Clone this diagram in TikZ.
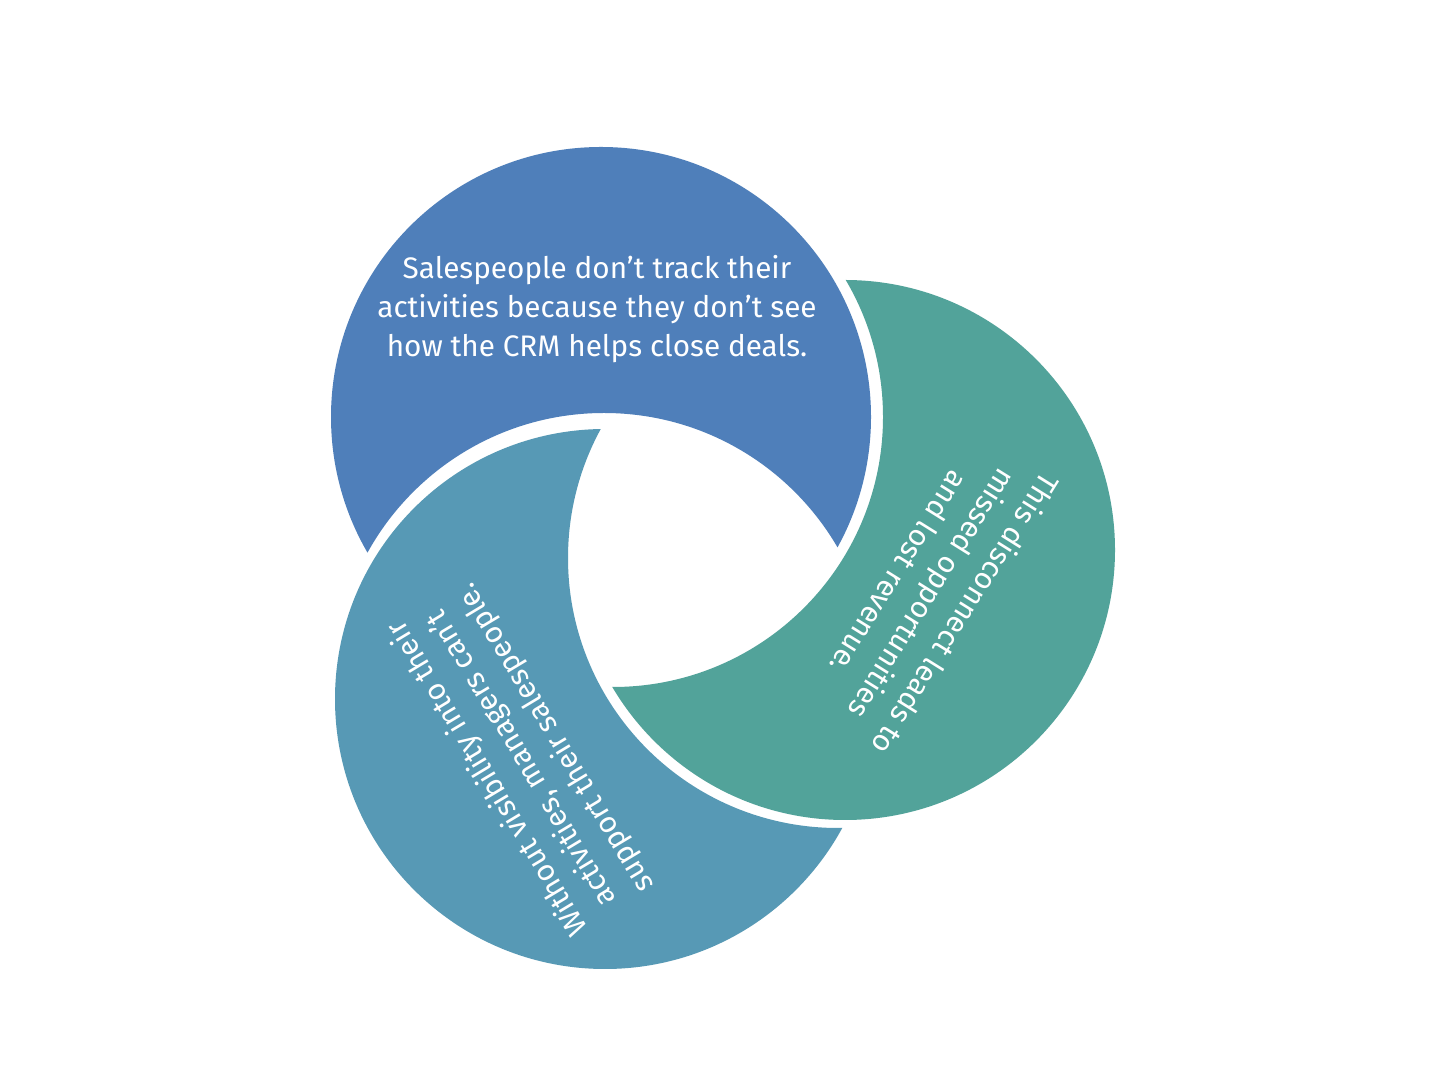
\documentclass[tikz,border=0pt]{standalone}
\usepackage{fontspec}
\setmainfont{Fira Sans}
\definecolor{trackblue}{HTML}{4F7FBA}
\definecolor{lossteal}{HTML}{52A39A}
\definecolor{mgrblue}{HTML}{5799B5}

\begin{document}
\begin{tikzpicture}[x=0.02cm, y=0.02cm]
\tikzstyle{every node}+=[inner sep=0pt, text=white, align=center, font=\fontsize{16.9}{22.3}\selectfont]
\useasboundingbox (0,0) rectangle (1433,1075);
\fill [white] (0,0) rectangle (1433,1075);
\begin{scope}
\clip (601,658) circle (270);
\fill [trackblue, even odd rule] (300,350) rectangle (900,950) (604,392) circle (270);
\end{scope}
\begin{scope}
\clip (845,525) circle (270);
\fill [lossteal, even odd rule] (550,230) rectangle (1150,830) (613,658) circle (270);
\end{scope}
\begin{scope}
\clip (605,376) circle (270);
\fill [mgrblue, even odd rule] (300,80) rectangle (900,680) (838,517) circle (270);
\end{scope}
\draw (597,766) node (track) {Salespeople don't track their\\activities because they don't see\\how the CRM helps close deals.};
\draw (933,481) node [rotate=-122] (loss) {This disconnect leads to\\missed opportunities\\and lost revenue.};
\draw (522,317) node [rotate=121] (mgr) {Without visibility into their\\activities, managers can't\\support their salespeople.};
\end{tikzpicture}
\end{document}
